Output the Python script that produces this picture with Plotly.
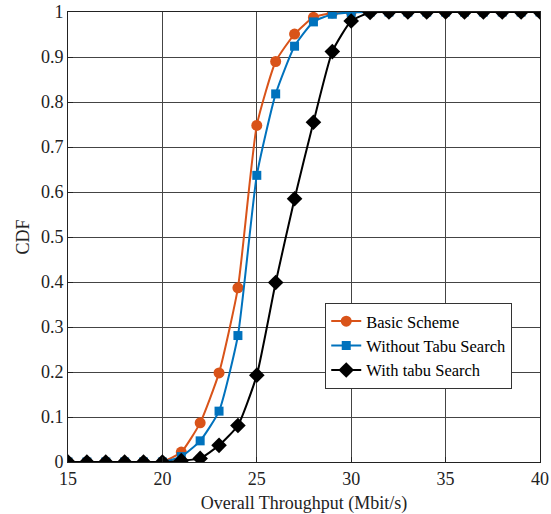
import plotly.graph_objects as go

x = list(range(15, 41))
basic = [0, 0, 0, 0, 0, 0, 0.022, 0.087, 0.198, 0.387, 0.748, 0.890, 0.951, 0.988, 0.998, 1.0,
         1, 1, 1, 1, 1, 1, 1, 1, 1, 1]
without_tabu = [0, 0, 0, 0, 0, 0, 0.012, 0.047, 0.113, 0.281, 0.637, 0.818, 0.924, 0.978, 0.995, 0.999,
                1, 1, 1, 1, 1, 1, 1, 1, 1, 1]
with_tabu = [0, 0, 0, 0, 0, 0, 0.003, 0.008, 0.037, 0.081, 0.193, 0.399, 0.585, 0.755, 0.912, 0.980,
             0.999, 1, 1, 1, 1, 1, 1, 1, 1, 1]
x_ticks = [15, 20, 25, 30, 35, 40]
y_ticks = [0, 0.1, 0.2, 0.3, 0.4, 0.5, 0.6, 0.7, 0.8, 0.9, 1]
y_ticktext = ["0", "0.1", "0.2", "0.3", "0.4", "0.5", "0.6", "0.7", "0.8", "0.9", "1"]

names = ["Basic Scheme", "Without Tabu Search", "With tabu Search"]
colors = ["#D95319", "#0072BD", "#000000"]
symbols = ["circle", "square", "diamond"]
sizes = [11, 9, 12]

FF = "Liberation Serif, Times New Roman, serif"

fig = go.Figure()
for name, ys, c, s, sz in zip(names, [basic, without_tabu, with_tabu], colors, symbols, sizes):
    fig.add_trace(go.Scatter(
        x=x, y=ys, name=name, mode="lines+markers",
        line=dict(color=c, width=2, shape="spline", smoothing=0.5),
        marker=dict(symbol=s, size=sz, color=c),
    ))

fig.update_layout(
    width=551, height=514,
    margin=dict(l=68, r=11, t=12, b=52),
    paper_bgcolor="white", plot_bgcolor="white",
    font=dict(family=FF, size=16, color="#222"),
    showlegend=True,
    legend=dict(
        x=0.545, y=0.258, xanchor="left", yanchor="middle",
        bgcolor="white", bordercolor="#333", borderwidth=1,
        font=dict(family=FF, size=16.5, color="#000"),
        tracegroupgap=0, itemwidth=30,
    ),
)
fig.update_xaxes(
    range=[15, 40], tickvals=x_ticks,
    showgrid=True, gridcolor="#444", gridwidth=1,
    showline=True, linecolor="#222", linewidth=1, mirror=True,
    ticks="inside", ticklen=5, tickcolor="#222",
    zeroline=False, automargin=False, ticklabeloverflow="allow",
    title=dict(text="Overall Throughput (Mbit/s)", font=dict(family=FF, size=18, color="#222"), standoff=8),
    tickfont=dict(family=FF, size=18, color="#222"),
)
fig.update_yaxes(
    range=[0, 1], tickvals=y_ticks, ticktext=y_ticktext,
    showgrid=True, gridcolor="#444", gridwidth=1,
    showline=True, linecolor="#222", linewidth=1, mirror=True,
    ticks="inside", ticklen=5, tickcolor="#222",
    zeroline=False, automargin=False, ticklabeloverflow="allow",
    title=dict(text="CDF", font=dict(family=FF, size=18, color="#222"), standoff=6),
    tickfont=dict(family=FF, size=18, color="#222"),
)

fig.write_html("out.html", config={"displayModeBar": False},
               post_script="document.body.style.margin='0';")
